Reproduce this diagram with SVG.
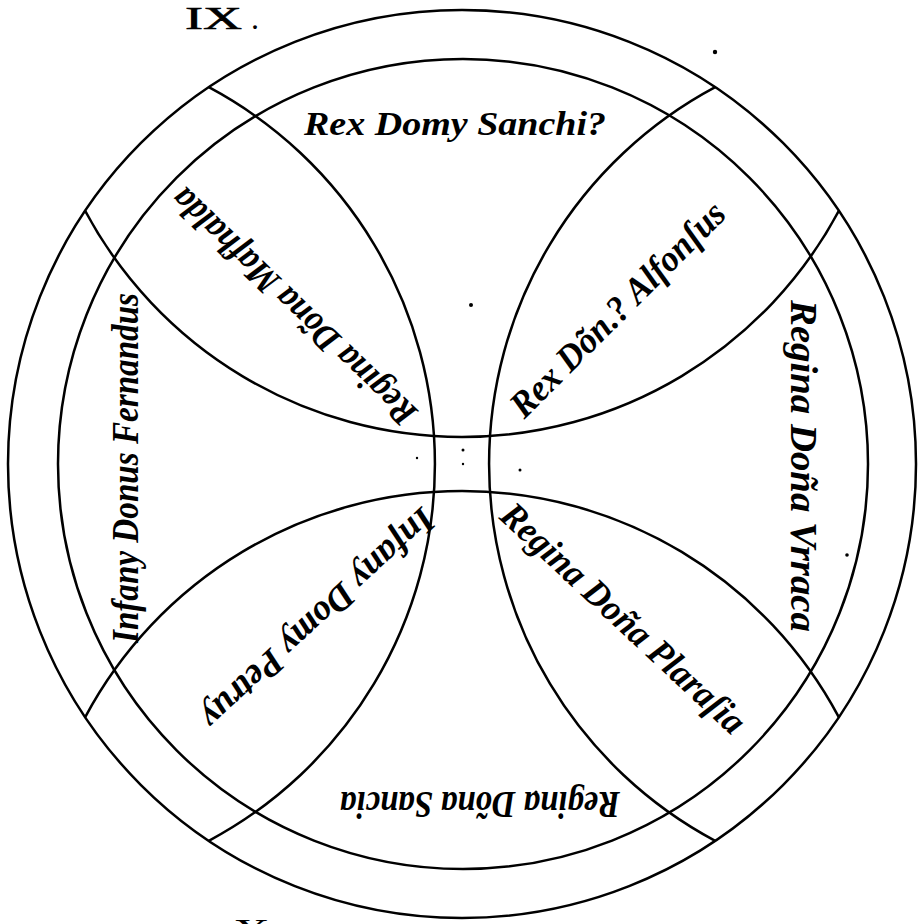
<svg xmlns="http://www.w3.org/2000/svg" width="918" height="924" viewBox="0 0 918 924">
<style>
.ln{fill:none;stroke:#000;stroke-width:2.5}
.lab{font-family:"Liberation Serif","DejaVu Serif",serif;font-style:italic;font-weight:bold;font-size:37px;fill:#000}
.num{font-family:"Liberation Serif","DejaVu Serif",serif;font-size:32px;fill:#000}
.dot{fill:#000}
</style>
<rect width="918" height="924" fill="#fff"/>
<g id="rings">
<circle class="ln" cx="462" cy="464" r="454"/>
<circle class="ln" cx="463" cy="464" r="405"/>
</g>
<g id="arcs">
<path class="ln" d="M208.8,87.2 A427,427 0 0 1 208.8,840.8"/>
<path class="ln" d="M715.2,87.2 A427,427 0 0 0 715.2,840.8"/>
<path class="ln" d="M85.2,210.8 A427,427 0 0 0 838.8,210.8"/>
<path class="ln" d="M85.2,717.2 A427,427 0 0 1 838.8,717.2"/>
</g>
<g id="title">
<text class="num" x="185" y="29" textLength="57" lengthAdjust="spacingAndGlyphs" style="stroke:#000;stroke-width:0.6">IX</text>
<text class="num" x="251" y="29">.</text>
</g>
<g id="bottom-numeral">
<text class="num" x="233" y="941" textLength="37" lengthAdjust="spacingAndGlyphs">X</text>
</g>
<g id="top">
<text class="lab" style="font-size:34px" x="455" y="135" text-anchor="middle" textLength="302" lengthAdjust="spacingAndGlyphs">Rex Domy Sanchi?</text>
</g>
<g id="top-right">
<text class="lab" transform="translate(626,318) rotate(-45)" x="0" y="0" text-anchor="middle" textLength="288" lengthAdjust="spacingAndGlyphs">Rex Dõn.? Alfonſus</text>
</g>
<g id="top-left">
<text class="lab" transform="translate(302,298) rotate(-136)" x="0" y="0" text-anchor="middle" textLength="325" lengthAdjust="spacingAndGlyphs">Regina Dõna Mafhalda</text>
</g>
<g id="left">
<text class="lab" transform="translate(138,468) rotate(-90)" x="0" y="0" text-anchor="middle" textLength="350" lengthAdjust="spacingAndGlyphs">Infany Donus Fernandus</text>
</g>
<g id="bottom-left">
<text class="lab" transform="translate(310,610) rotate(137)" x="0" y="0" text-anchor="middle" textLength="305" lengthAdjust="spacingAndGlyphs">Infany Domy Petruy</text>
</g>
<g id="right">
<text class="lab" transform="translate(791,466) rotate(90)" x="0" y="0" text-anchor="middle" textLength="332" lengthAdjust="spacingAndGlyphs">Regina Doña Vrraca</text>
</g>
<g id="bottom-right">
<text class="lab" transform="translate(615,627) rotate(43)" x="0" y="0" text-anchor="middle" textLength="320" lengthAdjust="spacingAndGlyphs">Regina Doña Plaraſia</text>
</g>
<g id="bottom">
<text class="lab" transform="translate(480,792) rotate(180)" x="0" y="0" text-anchor="middle" textLength="280" lengthAdjust="spacingAndGlyphs">Regina Dõna Sancia</text>
</g>
<g id="specks">
<circle class="dot" cx="715" cy="52" r="2.2"/>
<circle class="dot" cx="471" cy="305" r="2"/>
<circle class="dot" cx="463" cy="450" r="1.5"/>
<circle class="dot" cx="463" cy="464" r="1.2"/>
<circle class="dot" cx="417" cy="458" r="1.2"/>
<circle class="dot" cx="520" cy="470" r="1.5"/>
<circle class="dot" cx="847" cy="555" r="1.8"/>
<circle class="dot" cx="536" cy="792" r="1.6"/>
</g>
</svg>
